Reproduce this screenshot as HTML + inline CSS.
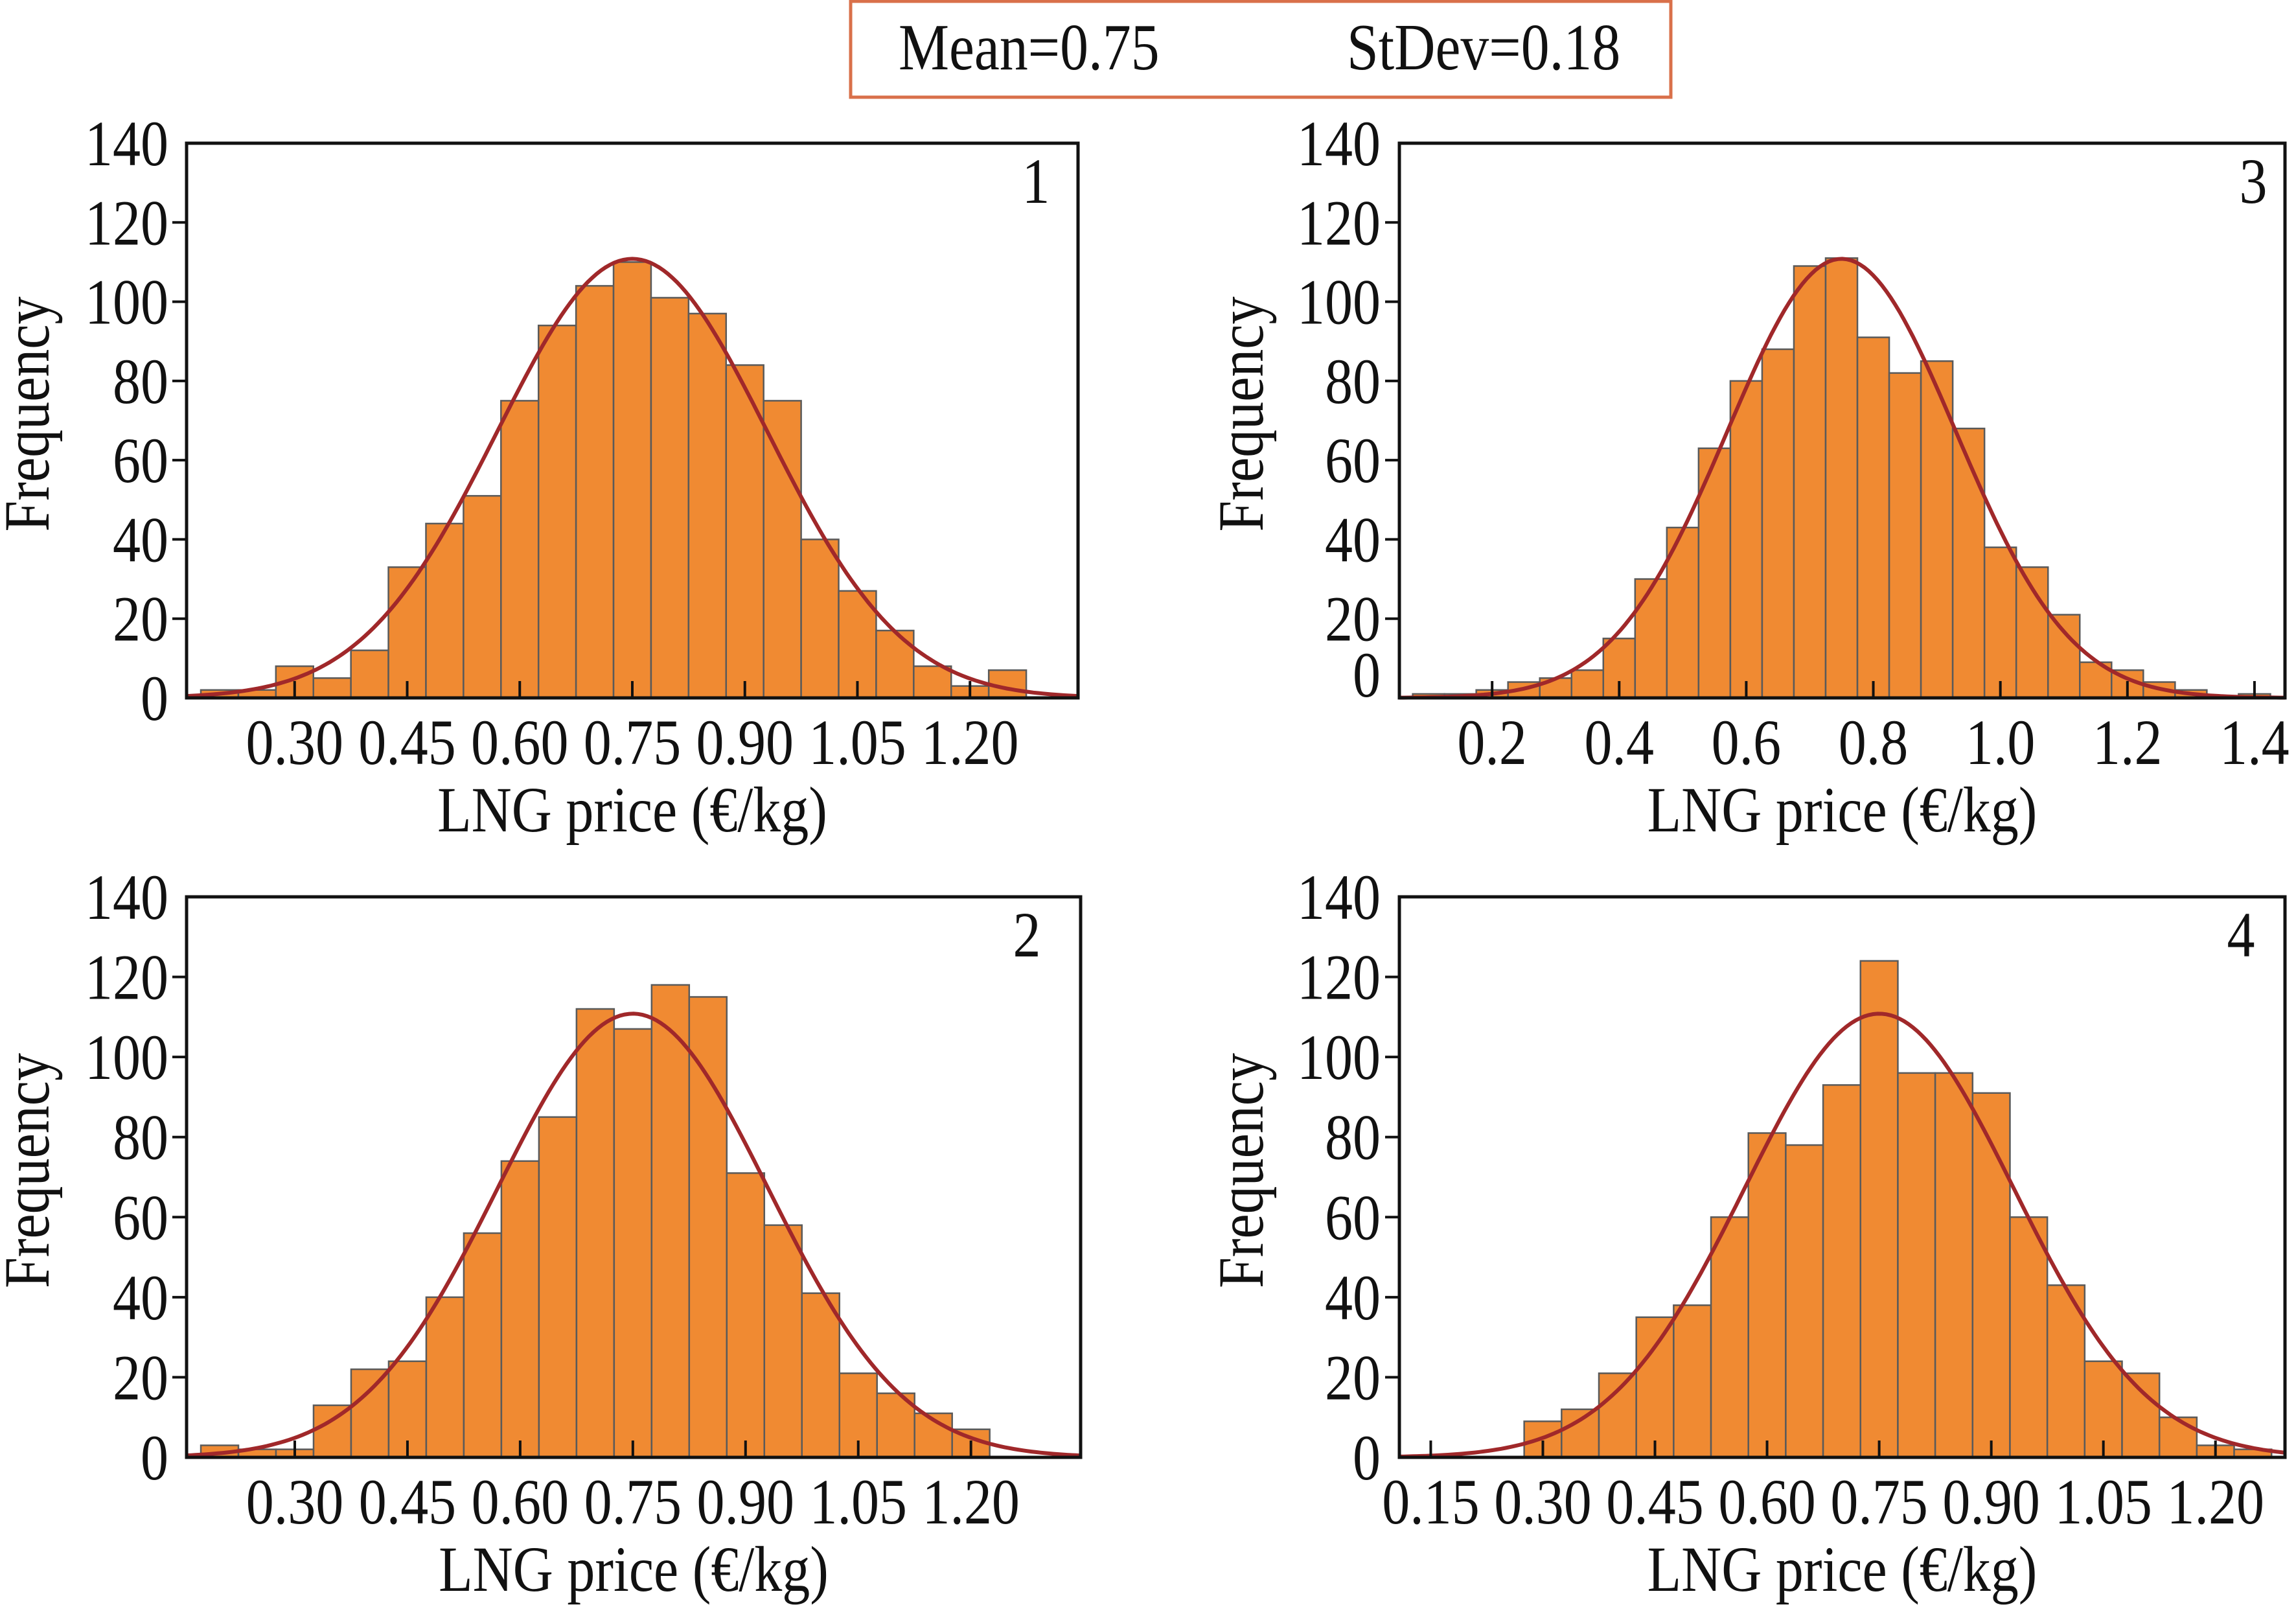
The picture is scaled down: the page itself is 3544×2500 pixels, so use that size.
<!DOCTYPE html>
<html><head><meta charset="utf-8"><title>LNG price histograms</title>
<style>
html,body{margin:0;padding:0;background:#fff;}
svg{display:block;font-family:"Liberation Serif",serif;}
</style></head>
<body>
<svg id="fig" width="3544" height="2500" viewBox="0 0 3544 2500" xmlns="http://www.w3.org/2000/svg">
<rect x="0" y="0" width="3544" height="2500" fill="#fff"/>
<g>
<rect x="1313" y="2" width="1266" height="148" fill="#fff" stroke="#d9704a" stroke-width="5"/>
<text transform="translate(1387,107) scale(0.86,1)" font-size="102" fill="#111">Mean=0.75</text>
<text transform="translate(2079,107) scale(0.86,1)" font-size="102" fill="#111">StDev=0.18</text>
</g>
</svg>
<script>
// ---- data ----
const p1BinStarts = [0.175,0.225,0.275,0.325,0.375,0.425,0.475,0.525,0.575,0.625,0.675,0.725,0.775,0.825,0.875,0.925,0.975,1.025,1.075,1.125,1.175,1.225];
const p1Counts    = [2,2,8,5,12,33,44,51,75,94,104,110,101,97,84,75,40,27,17,8,3,7];
const p2BinStarts = [0.175,0.225,0.275,0.325,0.375,0.425,0.475,0.525,0.575,0.625,0.675,0.725,0.775,0.825,0.875,0.925,0.975,1.025,1.075,1.125,1.175];
const p2Counts    = [3,2,2,13,22,24,40,56,74,85,112,107,118,115,71,58,41,21,16,11,7];
const p3BinStarts = [0.075,0.125,0.175,0.225,0.275,0.325,0.375,0.425,0.475,0.525,0.575,0.625,0.675,0.725,0.775,0.825,0.875,0.925,0.975,1.025,1.075,1.125,1.175,1.225,1.275,1.325,1.375];
const p3Counts    = [1,1,2,4,5,7,15,30,43,63,80,88,109,111,91,82,85,68,38,33,21,9,7,4,2,0,1];
const p4BinStarts = [0.275,0.325,0.375,0.425,0.475,0.525,0.575,0.625,0.675,0.725,0.775,0.825,0.875,0.925,0.975,1.025,1.075,1.125,1.175,1.225];
const p4Counts    = [9,12,21,35,38,60,81,78,93,124,96,96,91,60,43,24,21,10,3,2];
const xTicksA = [0.30,0.45,0.60,0.75,0.90,1.05,1.20];
const xTickLabelsA = ["0.30","0.45","0.60","0.75","0.90","1.05","1.20"];
const xTicks3 = [0.2,0.4,0.6,0.8,1.0,1.2,1.4];
const xTickLabels3 = ["0.2","0.4","0.6","0.8","1.0","1.2","1.4"];
const xTicks4 = [0.15,0.30,0.45,0.60,0.75,0.90,1.05,1.20];
const xTickLabels4 = ["0.15","0.30","0.45","0.60","0.75","0.90","1.05","1.20"];
const yTicks = [0,20,40,60,80,100,120,140];
const yTickLabels = ["0","20","40","60","80","100","120","140"];
const fitMean = [0.75];
const fitStdev = [0.18];
const fitN = [1000];
const binWidth = [0.05];

const NS = "http://www.w3.org/2000/svg";
const svg = document.getElementById("fig");
const FS = 100, SX = 0.86;
function mk(tag, attrs, parent){
  const e = document.createElementNS(NS, tag);
  for (const k in attrs) e.setAttribute(k, attrs[k]);
  (parent||svg).appendChild(e);
  return e;
}
function txt(x, y, anchor, str, parent, rot){
  const tf = "translate(" + x + "," + y + ")" + (rot ? " rotate(-90)" : "") + " scale(" + SX + ",1)";
  const t = mk("text", {transform:tf, "font-size":FS, "text-anchor":anchor, fill:"#111"}, parent);
  t.textContent = str;
  return t;
}

const panels = [
  {id:"1", starts:p1BinStarts, counts:p1Counts, ticks:xTicksA, labels:xTickLabelsA, px0:288, px1:1664, py0:221, py1:1077, xmin:0.156, xmax:1.344, labelRight:260, freqX:45, numX:1599, zeroShift:0},
  {id:"3", starts:p3BinStarts, counts:p3Counts, ticks:xTicks3, labels:xTickLabels3, px0:2160, px1:3527, py0:221, py1:1077, xmin:0.054, xmax:1.448, labelRight:2131, freqX:1919, numX:3478, zeroShift:-36},
  {id:"2", starts:p2BinStarts, counts:p2Counts, ticks:xTicksA, labels:xTickLabelsA, px0:288, px1:1668, py0:1384, py1:2249, xmin:0.156, xmax:1.346, labelRight:260, freqX:45, numX:1585, zeroShift:0},
  {id:"4", starts:p4BinStarts, counts:p4Counts, ticks:xTicks4, labels:xTickLabels4, px0:2160, px1:3527, py0:1384, py1:2249, xmin:0.108, xmax:1.293, labelRight:2131, freqX:1919, numX:3459, zeroShift:0}
];

panels.forEach(p => {
  const g = mk("g", {});
  
  
  const xs = v => p.px0 + (v - p.xmin) / (p.xmax - p.xmin) * (p.px1 - p.px0);
  const ys = v => p.py1 - v / 140 * (p.py1 - p.py0);

  p.starts.forEach((s, i) => {
    const c = p.counts[i];
    if (c <= 0) return;
    const x0 = xs(s), x1 = xs(s + binWidth[0]);
    const r = mk("rect", {x:x0, y:ys(c), width:x1 - x0, height:ys(0) - ys(c), fill:"#f08a32", stroke:"#5a5a5a", "stroke-width":2.5}, g);
    
    
  });

  const mu = fitMean[0], sd = fitStdev[0], n = fitN[0], bw = binWidth[0];
  let d = "";
  const steps = 200;
  for (let k = 0; k <= steps; k++) {
    const v = p.xmin + (p.xmax - p.xmin) * k / steps;
    const f = n * bw / (sd * Math.sqrt(2 * Math.PI)) * Math.exp(-0.5 * Math.pow((v - mu) / sd, 2));
    d += (k ? "L" : "M") + xs(v).toFixed(1) + "," + ys(f).toFixed(1);
  }
  const curve = mk("path", {d:d, fill:"none", stroke:"#a0282a", "stroke-width":6}, g);
  
  

  const fr = mk("rect", {x:p.px0, y:p.py0, width:p.px1 - p.px0, height:p.py1 - p.py0, fill:"none", stroke:"#111", "stroke-width":5}, g);
  
  

  p.ticks.forEach((t, i) => {
    const x = xs(t);
    const tk = mk("line", {x1:x, x2:x, y1:p.py1, y2:p.py1 - 26, stroke:"#111", "stroke-width":4}, g);
    
    
    const tl = txt(x, p.py1 + 102, "middle", p.labels[i], g);
    
    
  });

  yTicks.forEach((t, i) => {
    const y = ys(t);
    if (t > 0 && t < 140) {
      const tk = mk("line", {x1:p.px0, x2:p.px0 - 22, y1:y, y2:y, stroke:"#111", "stroke-width":4}, g);
      
      
    }
    const yy = y + 34 + (t === 0 ? p.zeroShift : 0);
    const tl = txt(p.labelRight, yy, "end", yTickLabels[i], g);
    
    
  });

  const cx = (p.px0 + p.px1) / 2, cy = (p.py0 + p.py1) / 2;
  const xt = txt(cx, p.py1 + 206, "middle", "LNG price (€/kg)", g);
  
  
  const yt = txt(p.freqX + 30, cy - 10, "middle", "Frequency", g, true);
  
  

  const pn = txt(p.numX, p.py0 + 92, "middle", p.id, g);
  
  
});
</script>
</body></html>
